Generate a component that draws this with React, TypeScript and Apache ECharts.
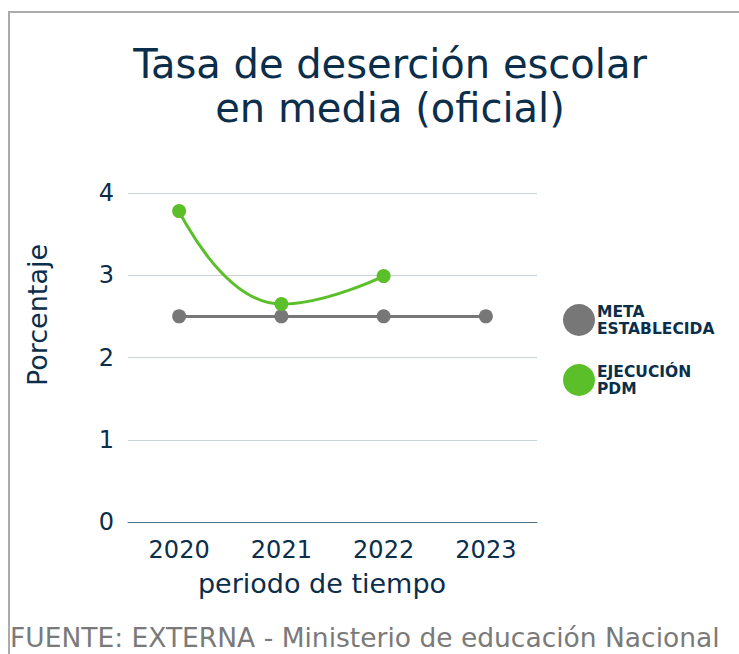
import React, { useEffect, useRef } from "react";
import * as echarts from "echarts";

const years = ["2020", "2021", "2022", "2023"];
const metaValues = [2.5, 2.5, 2.5, 2.5];
const ejecucionValues: (number | null)[] = [3.78, 2.65, 2.99, null];
const titleLines = ["Tasa de deserción escolar", "en media (oficial)"];
const xAxisName = "periodo de tiempo";
const yAxisName = "Porcentaje";
const footerText = "FUENTE: EXTERNA - Ministerio de educación Nacional";

const FONT = "'DejaVu Sans', sans-serif";
const NAVY = "#0b2e4b";

export default function App() {
  const ref = useRef<HTMLDivElement>(null);
  useEffect(() => {
    if (!ref.current) return;
    const chart = echarts.init(ref.current, undefined, { renderer: "svg" });
    chart.setOption({
      animation: false,
      backgroundColor: "#ffffff",
      textStyle: { fontFamily: FONT },
      legend: {
        orient: "vertical",
        left: 563,
        top: 298,
        padding: 0,
        icon: "circle",
        itemWidth: 32,
        itemHeight: 32,
        itemGap: 16,
        textStyle: {
          fontFamily: FONT,
          fontSize: 15.5,
          fontWeight: "bold",
          color: NAVY,
          lineHeight: 17,
          padding: [0, 0, 10, -3],
        },
        data: [{ name: "META\nESTABLECIDA" }, { name: "EJECUCIÓN\nPDM" }],
      },
      grid: { left: 128, right: 202, top: 193, bottom: 132 },
      xAxis: {
        type: "category",
        data: years,
        boundaryGap: true,
        axisLine: { show: true, lineStyle: { color: "#4f7189", width: 1 } },
        axisTick: { show: false },
        axisLabel: { fontFamily: FONT, fontSize: 24, color: NAVY, margin: 16 },
      },
      yAxis: {
        type: "value",
        min: 0,
        max: 4,
        interval: 1,
        axisLine: { show: false },
        axisTick: { show: false },
        axisLabel: { fontFamily: FONT, fontSize: 24, color: NAVY, margin: 14 },
        splitLine: { lineStyle: { color: "#c8d2da", width: 1 } },
      },
      series: [
        {
          name: "META\nESTABLECIDA",
          type: "line",
          data: metaValues,
          symbol: "circle",
          symbolSize: 14,
          itemStyle: { color: "#777777" },
          lineStyle: { color: "#777777", width: 3 },
          z: 2,
        },
        {
          name: "EJECUCIÓN\nPDM",
          type: "line",
          data: ejecucionValues,
          smooth: 0.5,
          symbol: "circle",
          symbolSize: 14,
          itemStyle: { color: "#5bbf2a" },
          lineStyle: { color: "#5bbf2a", width: 3 },
          z: 3,
        },
      ],
      graphic: [
        {
          type: "text",
          x: 390,
          y: 64,
          style: {
            text: titleLines[0],
            fontFamily: FONT,
            fontSize: 40,
            fill: NAVY,
            textAlign: "center",
            textVerticalAlign: "middle",
          },
        },
        {
          type: "text",
          x: 390,
          y: 108,
          style: {
            text: titleLines[1],
            fontFamily: FONT,
            fontSize: 40,
            fill: NAVY,
            textAlign: "center",
            textVerticalAlign: "middle",
          },
        },
        {
          type: "text",
          x: 322,
          y: 583,
          style: {
            text: xAxisName,
            fontFamily: FONT,
            fontSize: 27,
            fill: NAVY,
            textAlign: "center",
            textVerticalAlign: "middle",
          },
        },
        {
          type: "text",
          x: 37,
          y: 315,
          rotation: Math.PI / 2,
          style: {
            text: yAxisName,
            fontFamily: FONT,
            fontSize: 27,
            fill: NAVY,
            textAlign: "center",
            textVerticalAlign: "middle",
          },
        },
        {
          type: "text",
          x: 10,
          y: 637,
          style: {
            text: footerText,
            fontFamily: FONT,
            fontSize: 26.5,
            fill: "#7a7a7a",
            textAlign: "left",
            textVerticalAlign: "middle",
          },
        },
      ],
    });
    return () => chart.dispose();
  }, []);

  return (
    <div
      style={{
        position: "fixed",
        left: 0,
        top: 0,
        width: 739,
        height: 654,
        overflow: "hidden",
        background: "#fff",
      }}
    >
      <div ref={ref} style={{ position: "absolute", left: 0, top: 0, width: 739, height: 654 }} />
      <div
        style={{
          position: "absolute",
          left: 8,
          top: 11,
          width: 760,
          height: 700,
          border: "2px solid #ababab",
          pointerEvents: "none",
        }}
      />
    </div>
  );
}
